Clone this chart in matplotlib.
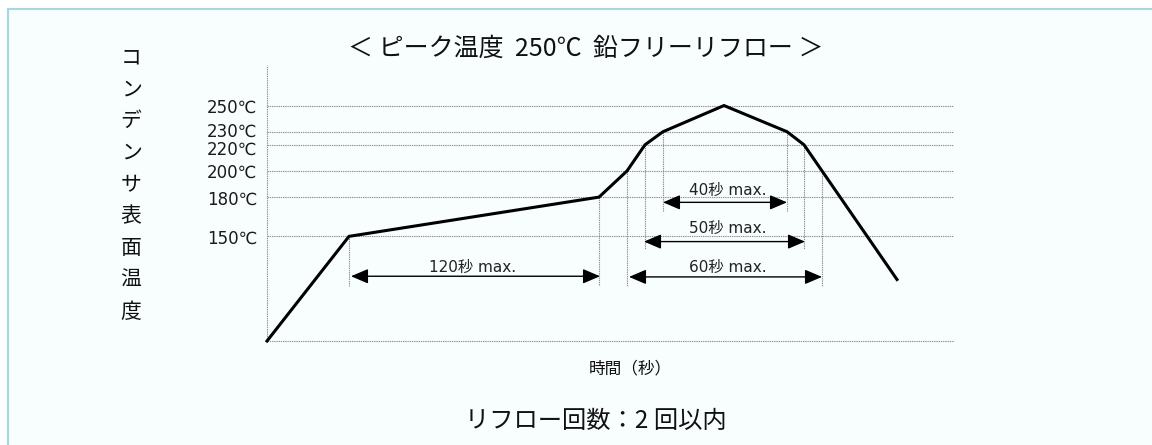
import matplotlib.pyplot as plt
from matplotlib.patches import Rectangle
from matplotlib.transforms import offset_copy

plt.rcParams['font.family'] = ['DejaVu Sans', 'Noto Sans CJK JP']

# reflow profile (schematic time units, temperature in deg C)
time_pts = [0, 82, 332, 360, 378, 396, 457, 520, 537, 630]
temp_pts = [70, 150, 180, 200, 220, 230, 250, 230, 220, 117]

grid_temps = [250, 230, 220, 200, 180, 150]
grid_labels = ['250℃', '230℃', '220℃', '200℃', '180℃', '150℃']
label_nudge = [-2.5, -0.5, -5, -2, -3, -2]   # px, keeps 230/220 labels apart

# vertical guide lines: time, top temp, bottom temp
guide_t = [82, 332, 360, 378, 396, 520, 537, 555]
guide_top = [150, 180, 200, 220, 230, 230, 220, 200]
guide_bot = [112, 112, 112, 140, 169, 169, 140, 112]

# dimension arrows
dim_start = [84, 362, 377, 396]
dim_end = [333, 555, 538, 520]
dim_y = [119.5, 119, 146, 176]
dim_text_x = [206, 461, 461, 461]
dim_text_y = [126.5, 126.5, 156, 185]
dim_labels = ['120秒 max.', '60秒 max.', '50秒 max.', '40秒 max.']

title = '＜ ピーク温度  250℃  鉛フリーリフロー ＞'
ylabel_chars = 'コンデンサ表面温度'
xlabel = '時間（秒）'
footer = 'リフロー回数：2 回以内'

W, H = 1152, 445
fig = plt.figure(figsize=(W / 100, H / 100), dpi=100)
fig.patch.set_facecolor('white')

# light blue framed panel
fig.patches.append(Rectangle((8 / W, -0.1), 1.2, 1.1 - 9 / H, transform=fig.transFigure,
                             facecolor='#f8fdfe', edgecolor='#a6d6de', lw=1.5, zorder=-5))

ax = fig.add_axes([267 / W, 1 - 341 / H, 687 / W, 276 / H])
ax.set_zorder(2)
ax.set_xlim(0, 687)
ax.set_ylim(70, 281)
ax.patch.set_alpha(0)
for s in ax.spines.values():
    s.set_visible(False)
ax.set_xticks([])
ax.set_yticks([])

dot = (0, (1.2, 0.8))
gcol = '#8f8f8f'
for t in grid_temps:
    ax.axhline(t, color=gcol, lw=0.8, ls=dot, zorder=1)
ax.axhline(70, color=gcol, lw=0.8, ls=dot, zorder=1, clip_on=False)
ax.axvline(0, color=gcol, lw=0.8, ls=dot, zorder=1, clip_on=False)

# temperature labels left of the frame
for t, lab, dy in zip(grid_temps, grid_labels, label_nudge):
    tr = offset_copy(ax.get_yaxis_transform(), fig=fig, x=-10, y=dy, units='dots')
    ax.text(0, t, lab, transform=tr, fontsize=12, color='#1a1a1a', ha='right', va='center')

for t, top, bot in zip(guide_t, guide_top, guide_bot):
    ax.plot([t, t], [top, bot], color=gcol, lw=0.8, ls=dot, zorder=1)

ax.plot(time_pts, temp_pts, color='black', lw=2.2, zorder=3, solid_joinstyle='miter',
        clip_on=False)

for x0, x1, y, tx, ty, lab in zip(dim_start, dim_end, dim_y, dim_text_x, dim_text_y, dim_labels):
    ax.annotate('', xy=(x1, y), xytext=(x0, y),
                arrowprops=dict(arrowstyle='<|-|>,head_length=0.75,head_width=0.32',
                                color='black', lw=1.0, shrinkA=0, shrinkB=0,
                                mutation_scale=14), zorder=4)
    ax.text(tx, ty, lab, fontsize=11, color='#222222', ha='center', va='center')

fig.text(586 / W, 1 - 49 / H, title, fontsize=18, ha='center', va='center', color='#111111',
         family=['Noto Sans CJK JP', 'DejaVu Sans'])

for i, ch in enumerate(ylabel_chars):
    fig.text(131 / W, 1 - (58 + i * 31.7) / H, ch, fontsize=15, ha='center', va='center',
             color='#111111', family=['Noto Sans CJK JP', 'DejaVu Sans'])

fig.text(630 / W, 1 - 369 / H, xlabel, fontsize=12, ha='center', va='center', color='#111111',
         family=['Noto Sans CJK JP', 'DejaVu Sans'])

fig.text(596 / W, 1 - 421 / H, footer, fontsize=17.5, ha='center', va='center', color='#111111',
         family=['Noto Sans CJK JP', 'DejaVu Sans'])

fig.savefig('out.png', dpi=100)
